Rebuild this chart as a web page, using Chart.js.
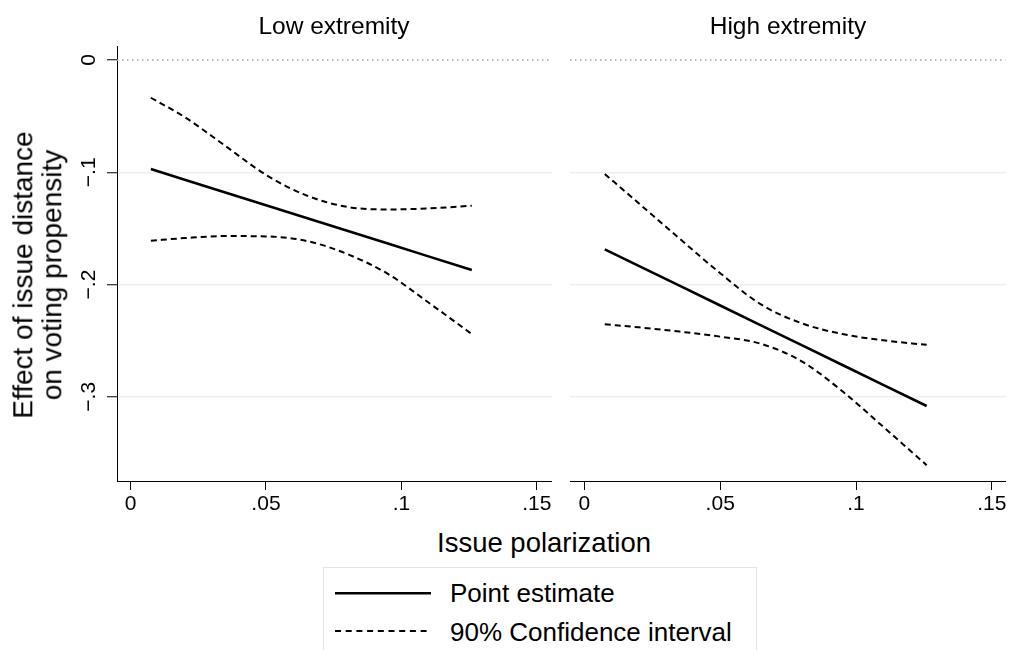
<!DOCTYPE html>
<html><head><meta charset="utf-8">
<script src="https://cdn.jsdelivr.net/npm/chart.js@4.4.0/dist/chart.umd.min.js"></script>
<style>
html,body{margin:0;padding:0;background:#fff;}
body{width:1010px;height:650px;overflow:hidden;position:relative;font-family:"Liberation Sans",Arial,Helvetica,sans-serif;color:#000;}
canvas{position:absolute;top:0;}
.t{position:absolute;white-space:nowrap;line-height:1;transform:translate(-50%,-50%);}
#legend{position:absolute;left:323px;top:567px;width:434px;height:100px;border:1px solid #dde6e9;box-sizing:border-box;}
.lg{position:absolute;left:126px;font-size:26px;line-height:1;transform:translateY(-50%);white-space:nowrap;}
</style></head><body>
<canvas id="c1" width="560" height="520" style="left:0px;width:560px;height:520px"></canvas>
<canvas id="c2" width="450" height="520" style="left:560px;width:450px;height:520px"></canvas>
<div class="t" style="left:334px;top:25.5px;font-size:24.5px">Low extremity</div>
<div class="t" style="left:788px;top:25.5px;font-size:24.5px">High extremity</div>
<div class="t" style="left:544px;top:543px;font-size:27.5px">Issue polarization</div>
<div class="t" style="left:37.5px;top:275px;font-size:28px;line-height:28.7px;text-align:center;transform:translate(-50%,-50%) rotate(-90deg)">Effect of issue distance<br>on voting propensity</div>
<div id="legend">
  <svg width="120" height="100" style="position:absolute;left:0;top:0">
    <line x1="11" y1="25.3" x2="107" y2="25.3" stroke="#000" stroke-width="2.5"/>
    <line x1="11" y1="63" x2="107" y2="63" stroke="#000" stroke-width="2" stroke-dasharray="6,4.7"/>
  </svg>
  <div class="lg" style="top:25px">Point estimate</div>
  <div class="lg" style="top:63.8px">90% Confidence interval</div>
</div>
<script>
// ---- data ----
const panelTitles = ['Low extremity', 'High extremity'];
const polarization = [0.0075, 0.02, 0.035, 0.05, 0.065, 0.08, 0.095, 0.11, 0.126];

const lowEstimate = [-0.0971, -0.1066, -0.1180, -0.1294, -0.1407, -0.1521, -0.1635, -0.1749, -0.1870];
const lowUpper    = [-0.0336, -0.0509, -0.0765, -0.1023, -0.1207, -0.1308, -0.1331, -0.1322, -0.1298];
const lowLower    = [-0.1610, -0.1586, -0.1568, -0.1571, -0.1612, -0.1728, -0.1905, -0.2160, -0.2441];

const highEstimate = [-0.1686, -0.1833, -0.2010, -0.2187, -0.2363, -0.2540, -0.2717, -0.2893, -0.3082];
const highUpper    = [-0.1015, -0.1276, -0.1590, -0.1899, -0.2177, -0.2345, -0.2441, -0.2497, -0.2537];
const highLower    = [-0.2354, -0.2381, -0.2419, -0.2464, -0.2528, -0.2684, -0.2951, -0.3267, -0.3609];

const xTickValues = [0, 0.05, 0.1, 0.15];
const xTickLabels = ['0', '.05', '.1', '.15'];
const yTickValues = [0, -0.1, -0.2, -0.3];
const yTickLabels = ['0', '\u2212.1', '\u2212.2', '\u2212.3'];
const yRange = [-0.375, 0.0125];
const lowXRange = [-0.005, 0.1555];
const highXRange = [-0.0053, 0.1551];
const referenceValue = 0;

Chart.defaults.font.family = '"Liberation Sans", Arial, Helvetica, sans-serif';
Chart.defaults.color = '#000';

function pts(xs, ys) { return xs.map((x, i) => ({x: x, y: ys[i]})); }

function makeChart(id, est, up, lo, xRange, isLeft) {
  const datasets = [
    {data: [{x: xRange[0], y: referenceValue}, {x: xRange[1], y: referenceValue}],
     borderColor: '#9aa6aa', borderWidth: 1.5, borderDash: [1.5, 3.5], pointRadius: 0},
    {data: pts(polarization, up), borderColor: '#000', borderWidth: 2, borderDash: [6, 4],
     pointRadius: 0, cubicInterpolationMode: 'monotone'},
    {data: pts(polarization, lo), borderColor: '#000', borderWidth: 2, borderDash: [6, 4],
     pointRadius: 0, cubicInterpolationMode: 'monotone'},
    {data: pts(polarization, est), borderColor: '#000', borderWidth: 2.6, pointRadius: 0}
  ];
  return new Chart(document.getElementById(id), {
    type: 'line',
    data: {datasets: datasets},
    options: {
      responsive: false, animation: false, events: [], devicePixelRatio: 1,
      layout: {padding: {top: 46, left: 0, bottom: 0, right: isLeft ? 8.3 : 4.3}},
      plugins: {legend: {display: false}, tooltip: {enabled: false}, title: {display: false}},
      scales: {
        x: {
          type: 'linear', min: xRange[0], max: xRange[1],
          afterBuildTicks: s => { s.ticks = xTickValues.map(v => ({value: v})); },
          afterFit: s => { s.height = 39; },
          ticks: {font: {size: 21}, color: '#000', padding: 2,
                  callback: v => { const i = xTickValues.indexOf(v); return i >= 0 ? xTickLabels[i] : ''; }},
          grid: {drawOnChartArea: false, drawTicks: true, tickLength: 9, tickColor: '#000', tickWidth: 1},
          border: {display: true, color: '#000', width: 1}
        },
        y: {
          type: 'linear', min: yRange[0], max: yRange[1],
          afterBuildTicks: s => { s.ticks = yTickValues.map(v => ({value: v})); },
          afterFit: s => { s.width = isLeft ? 117 : 10; },
          ticks: {display: isLeft, font: {size: 21}, color: '#000', padding: 3,
                  minRotation: 90, maxRotation: 90, crossAlign: 'center',
                  callback: v => { const i = yTickValues.indexOf(v); return i >= 0 ? yTickLabels[i] : ''; }},
          grid: {
            drawTicks: isLeft, tickLength: 10, tickColor: '#000', tickWidth: 1, lineWidth: 1.5,
            color: c => (c.tick && c.tick.value === referenceValue) ? 'rgba(0,0,0,0)' : '#e9f1f3'
          },
          border: {display: isLeft, color: '#000', width: 1}
        }
      }
    }
  });
}

makeChart('c1', lowEstimate, lowUpper, lowLower, lowXRange, true);
makeChart('c2', highEstimate, highUpper, highLower, highXRange, false);
</script>
</body></html>
